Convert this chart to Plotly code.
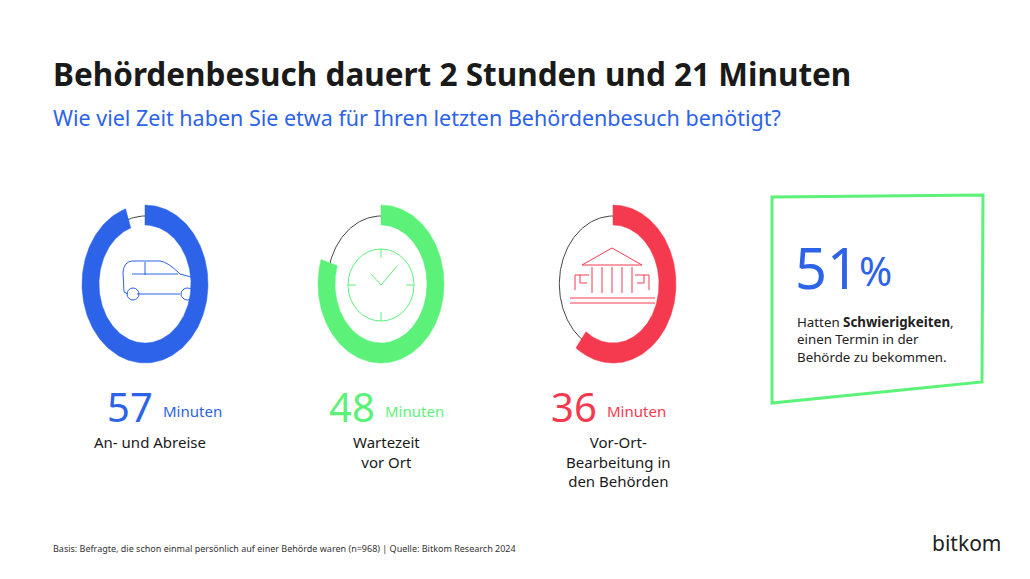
import numpy as np
import plotly.graph_objects as go

minutes = [57, 48, 36]
total = 60
labels = ["An- und Abreise", "Wartezeit<br>vor Ort", "Vor-Ort-<br>Bearbeitung in<br>den Behörden"]
colors = ["#2C63E8", "#5CF27A", "#F53A50"]
share_pct = 51

W, H = 1030, 579
centers = [145, 381, 613]
cy = 284
rx, ry, thx, thy = 63, 79, 17, 20

fig = go.Figure()
for v, cx, col in zip(minutes, centers, colors):
    t = np.linspace(0, 2*np.pi, 200)
    rmx, rmy = rx - thx*0.55, ry - thy*0.55
    fig.add_trace(go.Scatter(x=cx + rmx*np.sin(t), y=cy - rmy*np.cos(t), mode="lines",
                             line=dict(color="#444", width=1), hoverinfo="skip", showlegend=False))
    t = np.linspace(0, 2*np.pi*v/total, 200)
    xo, yo = cx + rx*np.sin(t), cy - ry*np.cos(t)
    xi, yi = cx + (rx-thx)*np.sin(t[::-1]), cy - (ry-thy)*np.cos(t[::-1])
    fig.add_trace(go.Scatter(x=np.concatenate([xo, xi, xo[:1]]), y=np.concatenate([yo, yi, yo[:1]]),
                             mode="lines", fill="toself", fillcolor=col, line=dict(color=col, width=0.5),
                             hoverinfo="skip", showlegend=False))

shapes = []
shapes.append(dict(type="path", path="M772,197 L983,195 L982,382 L772,403 Z",
                   line=dict(color="#5CF27A", width=3)))
c = colors[0]
shapes.append(dict(type="path", path="M124,292 L123,272 Q124,262 132,261 L160,261 Q168,262 180,274 L198,279 Q205,282 205,290 L205,294 L197,294 M180,294 L137,294 M128,294 L124,292",
                   line=dict(color=c, width=1)))
shapes += [dict(type="circle", x0=127, x1=139, y0=288, y1=300, line=dict(color=c, width=1)),
           dict(type="circle", x0=181, x1=194, y0=288, y1=300, line=dict(color=c, width=1)),
           dict(type="line", x0=145, x1=145, y0=262, y1=275, line=dict(color=c, width=1)),
           dict(type="line", x0=132, x1=178, y0=274, y1=274, line=dict(color=c, width=1))]
g = colors[1]
shapes.append(dict(type="circle", x0=348, x1=414, y0=249, y1=321, line=dict(color=g, width=1)))
for (a, b, cc, d) in [(381, 381, 249, 258), (381, 381, 312, 321), (348, 356, 285, 285), (406, 414, 285, 285)]:
    shapes.append(dict(type="line", x0=a, x1=b, y0=cc, y1=d, line=dict(color=g, width=1)))
shapes.append(dict(type="path", path="M371,274 L381,285 L397,266", line=dict(color=g, width=1)))
r = colors[2]
shapes.append(dict(type="path", path="M582,265 L612,248 L642,265 Z", line=dict(color=r, width=1)))
for xx in [592, 602, 612, 622, 632]:
    shapes.append(dict(type="line", x0=xx, x1=xx, y0=267, y1=293, line=dict(color=r, width=1)))
shapes += [dict(type="line", x0=570, x1=655, y0=298, y1=298, line=dict(color=r, width=1)),
           dict(type="line", x0=570, x1=655, y0=303, y1=303, line=dict(color=r, width=1)),
           dict(type="path", path="M575,290 L575,275 L589,275 M580,275 L580,283 L587,283", line=dict(color=r, width=1)),
           dict(type="path", path="M649,290 L649,275 L635,275 M644,275 L644,283 L637,283", line=dict(color=r, width=1))]

F = "Noto Sans"
ann = []
def A(x, y, text, size, color="#1a1a1a", xanchor="left", yanchor="middle", align="left"):
    ann.append(dict(x=x, y=y, text=text, showarrow=False, xref="x", yref="y", xanchor=xanchor,
                    yanchor=yanchor, align=align, font=dict(family=F, size=size, color=color)))

A(51, 73, "<b>Behördenbesuch dauert 2 Stunden und 21 Minuten</b>", 31.5)
A(51, 117, "Wie viel Zeit haben Sie etwa für Ihren letzten Behördenbesuch benötigt?", 21.5, "#2C63E8")
num_x = [105, 327, 549]
for v, lab, col, cx, nx in zip(minutes, labels, colors, centers, num_x):
    A(nx, 406, f"{v}", 40, col)
    A(nx + 56, 411, "Minuten", 15, col)
    A(cx + 5, 430, lab, 15, xanchor="center", yanchor="top", align="center")
A(793, 267, f"{share_pct}", 56, "#2C63E8")
A(857, 270, "%", 40, "#2C63E8")
A(795, 339, "Hatten <b>Schwierigkeiten</b>,<br>einen Termin in der<br>Behörde zu bekommen.", 13.3, "#222")
A(51, 548, "Basis: Befragte, die schon einmal persönlich auf einer Behörde waren (n=968) | Quelle: Bitkom Research 2024", 9, "#333")
A(1003, 543, "bitkom", 21, "#222", xanchor="right")

fig.update_layout(width=W, height=H, margin=dict(l=0, r=0, t=0, b=0),
                  paper_bgcolor="white", plot_bgcolor="white", shapes=shapes, annotations=ann,
                  xaxis=dict(range=[8, W + 8], visible=False, fixedrange=True),
                  yaxis=dict(range=[H + 8, 8], visible=False, fixedrange=True))
fig.write_html("out.html")
